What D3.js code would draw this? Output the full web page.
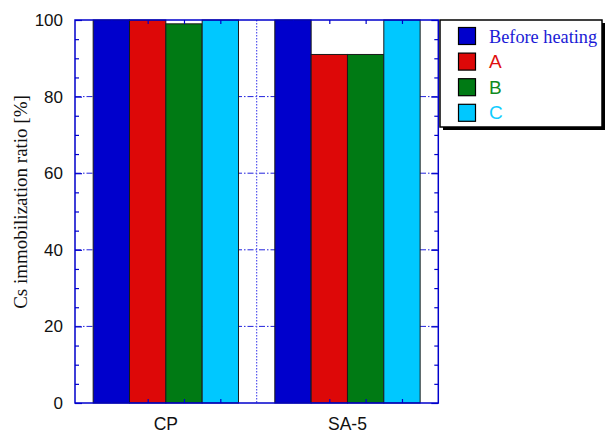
<!DOCTYPE html>
<html>
<head>
<meta charset="utf-8">
<script src="https://cdn.jsdelivr.net/npm/d3@7"></script>
<style>
  html, body { margin: 0; padding: 0; background: #fff; }
  svg { display: block; }
</style>
</head>
<body>
<svg id="chart" width="605" height="434"></svg>
<script>
// Samples and heating conditions
const categories = ["CP", "SA-5"];
const seriesNames = ["Before heating", "A", "B", "C"];
const seriesColors = ["#0000cc", "#dd0808", "#007a14", "#00c8ff"];
const legendFonts = ["'Liberation Serif', 'Times New Roman', serif", "'Liberation Sans', Arial, sans-serif", "'Liberation Sans', Arial, sans-serif", "'Liberation Sans', Arial, sans-serif"];
const legendTextColors = ["#1a1ad6", "#e01010", "#108a20", "#10ccff"];

// Cs immobilization ratio [%] for each sample, per series
const beforeHeating = [100, 100];
const condA = [100, 91];
const condB = [99, 91];
const condC = [100, 100];
const seriesValues = [beforeHeating, condA, condB, condC];

const yTicks = [0, 20, 40, 60, 80, 100];
const yMinorTicks = [5, 10, 15, 25, 30, 35, 45, 50, 55, 65, 70, 75, 85, 90, 95];

const svg = d3.select("#chart");
const plotLeft = 75, plotRight = 438.3, plotTop = 20, plotBottom = 403;
const axisColor = "#0000cc";
const sans = "'Liberation Sans', Arial, sans-serif";
const serif = "'Liberation Serif', 'Times New Roman', serif";

const x0 = d3.scaleBand().domain(categories).range([plotLeft, plotRight]).paddingInner(0).paddingOuter(0);
const x1 = d3.scaleBand().domain(seriesNames).range([0, x0.bandwidth()]).paddingInner(0).paddingOuter(0.5);
const y = d3.scaleLinear().domain([0, 100]).range([plotBottom, plotTop]);

// grid lines
const grid = svg.append("g");
grid.selectAll("line.h").data(yTicks.filter(v => v > 0 && v < 100)).enter().append("line")
  .attr("x1", plotLeft).attr("x2", plotRight)
  .attr("y1", d => y(d)).attr("y2", d => y(d))
  .attr("stroke", "#2222dd").attr("stroke-width", 1)
  .attr("stroke-dasharray", "6,2,1.5,2");
grid.selectAll("line.v").data(categories.slice(1)).enter().append("line")
  .attr("x1", d => x0(d)).attr("x2", d => x0(d))
  .attr("y1", plotTop).attr("y2", plotBottom)
  .attr("stroke", "#5555ee").attr("stroke-width", 1.2)
  .attr("stroke-dasharray", "1.5,1.5");

// bars
const rows = [];
categories.forEach((c, ci) => {
  seriesNames.forEach((s, si) => rows.push({ cat: c, series: s, value: seriesValues[si][ci], color: seriesColors[si] }));
});
svg.append("g").selectAll("rect").data(rows).enter().append("rect")
  .attr("x", d => x0(d.cat) + x1(d.series))
  .attr("y", d => y(d.value))
  .attr("width", x1.bandwidth())
  .attr("height", d => y(0) - y(d.value))
  .attr("fill", d => d.color)
  .attr("stroke", "#1a1a1a").attr("stroke-width", 1);

// axes (all ticks point inward)
const axes = svg.append("g").attr("color", axisColor);
axes.append("g").attr("transform", `translate(${plotLeft},0)`)
  .call(d3.axisRight(y).tickValues(yTicks).tickSize(7).tickFormat(""));
axes.append("g").attr("transform", `translate(${plotLeft},0)`)
  .call(d3.axisRight(y).tickValues(yMinorTicks).tickSize(4).tickFormat(""));
axes.append("g").attr("transform", `translate(${plotRight},0)`)
  .call(d3.axisLeft(y).tickValues(yTicks).tickSize(7).tickFormat(""));
axes.append("g").attr("transform", `translate(${plotRight},0)`)
  .call(d3.axisLeft(y).tickValues(yMinorTicks).tickSize(4).tickFormat(""));

const barCenters = rows.map(d => x0(d.cat) + x1(d.series) + x1.bandwidth() / 2);
const xc = d3.scaleLinear().domain([plotLeft, plotRight]).range([plotLeft, plotRight]);
axes.append("g").attr("transform", `translate(0,${plotTop})`)
  .call(d3.axisBottom(xc).tickValues(barCenters).tickSize(4).tickFormat(""));
axes.append("g").attr("transform", `translate(0,${plotBottom})`)
  .call(d3.axisTop(xc).tickValues(barCenters).tickSize(4).tickFormat(""));
axes.selectAll(".domain").remove();
axes.selectAll(".tick line").attr("stroke-width", 1.2);

// frame
svg.append("rect").attr("x", plotLeft).attr("y", plotTop)
  .attr("width", plotRight - plotLeft).attr("height", plotBottom - plotTop)
  .attr("fill", "none").attr("stroke", axisColor).attr("stroke-width", 1.5);

// tick labels
svg.append("g").selectAll("text").data(yTicks).enter().append("text")
  .attr("x", plotLeft - 12).attr("y", d => y(d) + 6)
  .attr("text-anchor", "end")
  .attr("font-family", sans).attr("font-size", 17).attr("fill", "#111")
  .text(d => d);
svg.append("g").selectAll("text").data(categories).enter().append("text")
  .attr("x", d => x0(d) + x0.bandwidth() / 2).attr("y", 430)
  .attr("text-anchor", "middle")
  .attr("font-family", sans).attr("font-size", 17.5).attr("fill", "#111")
  .text(d => d);

// y axis title
svg.append("text")
  .attr("transform", "translate(27,202) rotate(-90)")
  .attr("text-anchor", "middle")
  .attr("font-family", serif).attr("font-size", 19).attr("fill", "#111")
  .text("Cs immobilization ratio [%]");

// legend
const lg = svg.append("g");
lg.append("rect").attr("x", 443).attr("y", 23).attr("width", 162).attr("height", 107).attr("fill", "#000");
lg.append("rect").attr("x", 440).attr("y", 20).attr("width", 162).attr("height", 107)
  .attr("fill", "#fff").attr("stroke", "#000").attr("stroke-width", 1.5);
const items = lg.selectAll("g.item").data(seriesNames).enter().append("g")
  .attr("transform", (d, i) => `translate(0,${27.5 + i * 25.6})`);
items.append("rect").attr("x", 458.5).attr("y", 0).attr("width", 17).attr("height", 17)
  .attr("fill", (d, i) => seriesColors[i]).attr("stroke", "#000").attr("stroke-width", 1.2);
items.append("text").attr("x", 489).attr("y", 15)
  .attr("font-family", (d, i) => legendFonts[i]).attr("font-size", (d, i) => i === 0 ? 18.3 : 19)
  .attr("fill", (d, i) => legendTextColors[i])
  .text(d => d);
</script>
</body>
</html>
